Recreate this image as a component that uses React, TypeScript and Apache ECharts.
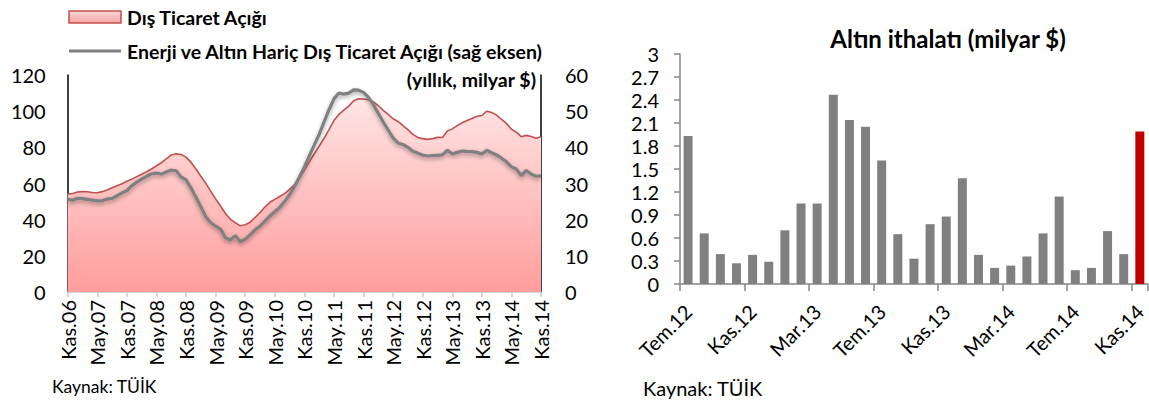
import React, { useEffect, useRef } from "react";
import * as echarts from "echarts";

// ---------- DATA ----------
const MONTHS_TR = ["Oca", "Şub", "Mar", "Nis", "May", "Haz", "Tem", "Ağu", "Eyl", "Eki", "Kas", "Ara"];

function monthLabels(startYear: number, startMonth: number, count: number): string[] {
  const out: string[] = [];
  for (let k = 0; k < count; k++) {
    const m = (startMonth + k) % 12;
    const y = startYear + Math.floor((startMonth + k) / 12);
    out.push(`${MONTHS_TR[m]}.${String(y % 100).padStart(2, "0")}`);
  }
  return out;
}

// Kas.06 .. Kas.14 (monthly)
const deficitCategories = monthLabels(2006, 10, 97);

// Dış Ticaret Açığı (left axis, yıllık milyar $)
const tradeDeficit = [
  54.2, 54.5, 55.3, 55.5, 55.4, 55.0, 54.9, 55.5, 56.4, 57.6, 58.8, 59.9,
  61.2, 62.4, 63.8, 65.1, 66.5, 68.0, 69.8, 71.5, 73.6, 75.8, 76.4, 76.0,
  74.6, 71.8, 68.0, 64.0, 60.2, 55.8, 51.5, 47.6, 43.4, 40.2, 38.4, 36.6,
  37.2, 38.6, 41.2, 44.0, 47.0, 49.6, 51.2, 52.8, 54.4, 56.8, 59.4, 62.9,
  67.4, 72.0, 76.4, 80.6, 85.0, 89.8, 94.8, 98.2, 100.6, 102.8, 105.8, 106.8,
  106.7, 106.3, 105.2, 103.0, 100.4, 98.2, 95.8, 94.3, 92.0, 89.8, 87.2, 85.5,
  84.8, 84.4, 84.8, 85.5, 85.4, 89.0, 90.2, 92.0, 93.6, 94.8, 96.0, 97.2,
  97.6, 100.0, 99.3, 97.8, 95.4, 93.2, 90.0, 88.4, 85.9, 86.6, 86.0, 85.0,
  85.9,
];

// Enerji ve Altın Hariç Dış Ticaret Açığı (right axis)
const coreDeficit = [
  25.6, 25.4, 25.9, 25.8, 25.6, 25.4, 25.2, 25.2, 25.7, 25.9, 26.6, 27.4,
  28.0, 29.4, 30.4, 31.2, 32.0, 32.7, 32.9, 32.6, 33.2, 33.7, 33.5, 31.8,
  31.0, 28.8, 26.2, 23.6, 20.8, 19.2, 18.2, 17.4, 15.0, 14.4, 15.6, 13.9,
  14.6, 15.8, 17.2, 18.2, 19.6, 21.0, 22.2, 23.4, 25.0, 26.9, 29.2, 31.8,
  34.6, 37.6, 40.6, 43.6, 47.0, 50.4, 53.4, 55.0, 54.7, 55.0, 55.9, 55.8,
  55.2, 53.8, 51.8, 49.4, 47.0, 44.8, 42.6, 41.2, 40.8, 40.0, 38.9, 38.4,
  37.8, 37.6, 37.7, 37.8, 37.9, 39.2, 38.2, 38.6, 39.0, 38.8, 38.8, 38.6,
  38.2, 39.2, 38.5, 37.9, 37.0, 36.0, 34.6, 34.0, 32.2, 33.6, 32.6, 32.0,
  32.1,
];

// Altın ithalatı: Tem.12 .. Kas.14 (monthly)
const goldCategories = monthLabels(2012, 6, 29);
const goldImports = [
  1.93, 0.66, 0.39, 0.27, 0.38, 0.29, 0.70, 1.05, 1.05, 2.47, 2.14, 2.05,
  1.61, 0.65, 0.33, 0.78, 0.88, 1.38, 0.38, 0.21, 0.24, 0.36, 0.66, 1.14,
  0.18, 0.21, 0.69, 0.39, 1.99,
];

const leftTicksLeft = [0, 120, 20];
const leftTicksRight = [0, 60, 10];
const goldTicks = [0, 3, 0.3];

// ---------- CHART ----------
const FONT = "Lato, 'Open Sans', sans-serif";

export default function App() {
  const ref = useRef<HTMLDivElement>(null);

  useEffect(() => {
    if (!ref.current) return;
    const chart = echarts.init(ref.current, undefined, { renderer: "svg" });

    const lastIdx = goldImports.length - 1;

    const option: any = {
      animation: false,
      textStyle: { fontFamily: FONT },
      grid: [
        { left: 67.7, top: 75, width: 473.3, height: 217, containLabel: false },
        { left: 680, top: 54, width: 470, height: 230, containLabel: false },
      ],
      xAxis: [
        {
          type: "category",
          gridIndex: 0,
          data: deficitCategories,
          boundaryGap: false,
          axisLine: { lineStyle: { color: "#c8c8c8", width: 1.5 } },
          axisTick: { interval: 5, length: 5, lineStyle: { color: "#c8c8c8", width: 1.5 } },
          axisLabel: {
            interval: 5,
            rotate: 90,
            margin: 8,
            color: "#000",
            fontSize: 20,
            fontFamily: FONT,
          },
          splitLine: { show: false },
        },
        {
          type: "category",
          gridIndex: 1,
          data: goldCategories,
          boundaryGap: true,
          axisLine: { lineStyle: { color: "#868686", width: 1.5 } },
          axisTick: {
            show: true,
            interval: 3,
            alignWithLabel: false,
            length: 7,
            lineStyle: { color: "#868686", width: 1.5 },
          },
          axisLabel: {
            interval: 3,
            rotate: 45,
            margin: 24,
            color: "#000",
            fontSize: 20,
            fontFamily: FONT,
          },
          splitLine: { show: false },
        },
      ],
      yAxis: [
        {
          type: "value",
          gridIndex: 0,
          min: leftTicksLeft[0],
          max: leftTicksLeft[1],
          interval: leftTicksLeft[2],
          axisLine: { show: true, lineStyle: { color: "#000", width: 1.5 } },
          axisTick: { show: false },
          axisLabel: { margin: 22, color: "#000", fontSize: 20, fontFamily: FONT },
          splitLine: { show: false },
        },
        {
          type: "value",
          gridIndex: 0,
          position: "right",
          min: leftTicksRight[0],
          max: leftTicksRight[1],
          interval: leftTicksRight[2],
          axisLine: { show: true, lineStyle: { color: "#000", width: 1.5 } },
          axisTick: { show: false },
          axisLabel: { margin: 24, color: "#000", fontSize: 20, fontFamily: FONT },
          splitLine: { show: false },
        },
        {
          type: "value",
          gridIndex: 1,
          min: goldTicks[0],
          max: goldTicks[1],
          interval: goldTicks[2],
          axisLine: { show: true, lineStyle: { color: "#868686", width: 1.5 } },
          axisTick: { show: true, inside: false, length: 6, lineStyle: { color: "#868686", width: 1.5 } },
          axisLabel: {
            margin: 21,
            color: "#000",
            fontSize: 20,
            fontFamily: FONT,
            formatter: (v: number) => {
              const s = (Math.round(v * 10) / 10).toFixed(1);
              return s.endsWith(".0") ? s.slice(0, -2) : s;
            },
          },
          splitLine: { show: false },
        },
      ],
      series: [
        {
          name: "Dış Ticaret Açığı",
          type: "line",
          xAxisIndex: 0,
          yAxisIndex: 0,
          data: tradeDeficit,
          symbol: "none",
          lineStyle: { color: "#c0504d", width: 1.6 },
          areaStyle: {
            color: new echarts.graphic.LinearGradient(0, 0, 0, 1, [
              { offset: 0, color: "#ffe4e4" },
              { offset: 1, color: "#ff9d9d" },
            ]),
            opacity: 1,
          },
          z: 2,
        },
        {
          name: "Enerji ve Altın Hariç Dış Ticaret Açığı (sağ eksen)",
          type: "line",
          xAxisIndex: 0,
          yAxisIndex: 1,
          data: coreDeficit,
          symbol: "none",
          lineStyle: {
            color: "#808080",
            width: 3.2,
            shadowColor: "rgba(0,0,0,0.35)",
            shadowBlur: 4,
            shadowOffsetY: 2,
          },
          z: 3,
        },
        {
          name: "Altın ithalatı",
          type: "bar",
          xAxisIndex: 1,
          yAxisIndex: 2,
          barWidth: 9,
          data: goldImports.map((v, i) => ({
            value: v,
            itemStyle: { color: i === lastIdx ? "#c00000" : "#808080" },
          })),
          z: 2,
        },
      ],
      graphic: [
        {
          type: "rect",
          shape: { x: 69, y: 11, width: 52, height: 12 },
          style: {
            fill: new echarts.graphic.LinearGradient(0, 0, 0, 1, [
              { offset: 0, color: "#fcd7d7" },
              { offset: 1, color: "#f3a3a3" },
            ]),
            stroke: "#c0504d",
            lineWidth: 1.5,
          },
        },
        {
          type: "text",
          x: 127,
          y: 17,
          style: {
            text: "Dış Ticaret Açığı",
            font: `bold 19.5px ${FONT}`,
            fill: "#000",
            textVerticalAlign: "middle",
          },
        },
        {
          type: "line",
          shape: { x1: 69, y1: 51, x2: 121, y2: 51 },
          style: { stroke: "#808080", lineWidth: 3 },
        },
        {
          type: "text",
          x: 127,
          y: 51,
          style: {
            text: "Enerji ve Altın Hariç Dış Ticaret Açığı (sağ eksen)",
            font: `bold 19.5px ${FONT}`,
            fill: "#000",
            textVerticalAlign: "middle",
          },
        },
        {
          type: "text",
          x: 536,
          y: 79,
          style: {
            text: "(yıllık, milyar $)",
            font: `bold 19.5px ${FONT}`,
            fill: "#000",
            textAlign: "right",
            textVerticalAlign: "middle",
          },
        },
        {
          type: "text",
          x: 52,
          y: 386,
          style: {
            text: "Kaynak: TÜİK",
            font: `17.5px ${FONT}`,
            fill: "#000",
            textVerticalAlign: "middle",
          },
        },
        {
          type: "text",
          x: 948,
          y: 38,
          style: {
            text: "Altın ithalatı (milyar $)",
            font: `bold 24px ${FONT}`,
            fill: "#000",
            textAlign: "center",
            textVerticalAlign: "middle",
          },
        },
        {
          type: "text",
          x: 643,
          y: 388,
          style: {
            text: "Kaynak: TÜİK",
            font: `20px ${FONT}`,
            fill: "#000",
            textVerticalAlign: "middle",
          },
        },
      ],
    };

    chart.setOption(option);
    return () => {
      chart.dispose();
    };
  }, []);

  return (
    <div
      ref={ref}
      style={{ position: "fixed", left: 0, top: 0, width: 1149, height: 400, background: "#fff" }}
    />
  );
}
